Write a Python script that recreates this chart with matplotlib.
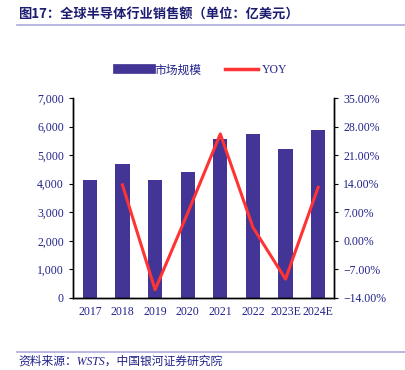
import matplotlib
matplotlib.use("Agg")
import matplotlib.pyplot as plt
from matplotlib.ticker import FuncFormatter
from matplotlib.lines import Line2D

plt.rcParams['font.family'] = ['Liberation Serif', 'Noto Sans CJK SC', 'DejaVu Sans']

# data
years = ["2017", "2018", "2019", "2020", "2021", "2022", "2023E", "2024E"]
market = [4122, 4688, 4123, 4404, 5559, 5741, 5201, 5884]
yoy_years = ["2018", "2019", "2020", "2021", "2022", "2023E", "2024E"]
yoy = [13.7, -12.0, 6.8, 26.2, 3.3, -9.4, 13.1]

bar_color = "#433595"
line_color = "#ff3333"
text_color = "#22228a"

fig = plt.figure(figsize=(4.05, 3.7), dpi=100)
ax = fig.add_axes([0.180, 0.195, 0.645, 0.540])
ax2 = ax.twinx()

x = list(range(len(years)))
ax.bar(x, market, width=0.44, color=bar_color, zorder=2)
xi = [years.index(y) for y in yoy_years]
ax2.plot(xi, yoy, color=line_color, lw=2.2, zorder=3)

ax.set_xlim(-0.52, len(years) - 0.51)
ax.set_ylim(0, 7000)
ax.set_yticks(range(0, 7001, 1000))
ax.yaxis.set_major_formatter(FuncFormatter(lambda v, p: f"{int(v):,}"))
ax2.set_ylim(-14, 35)
ax2.set_yticks([-14, -7, 0, 7, 14, 21, 28, 35])
ax2.yaxis.set_major_formatter(FuncFormatter(lambda v, p: f"{v:.2f}%".replace("-", "\u2212")))

ax.set_xticks(x)
ax.set_xticklabels(years)
for a in (ax, ax2):
    a.spines['top'].set_visible(False)
    for s in a.spines.values():
        s.set_linewidth(1.0)
    a.tick_params(labelsize=8.5, labelcolor=text_color, length=3, width=0.8, direction='out')
ax.tick_params(axis='x', length=0, pad=6)

# legend
handles = [Line2D([0], [0], color=bar_color, lw=7),
           Line2D([0], [0], color=line_color, lw=2.5)]
fig.legend(handles, ["市场规模", "YOY"], loc='center', bbox_to_anchor=(0.5, 0.81),
           ncol=2, frameon=False, labelcolor=text_color,
           handlelength=2.8, columnspacing=2.0, handletextpad=0.3,
           prop={'family': ['Liberation Serif', 'Noto Sans CJK SC'], 'size': 8.5})

# title and source
fig.text(0.045, 0.96, "图17：全球半导体行业销售额（单位：亿美元）", fontsize=9.5, fontweight='bold',
         color="#1c1c70", family=['Noto Sans CJK SC', 'DejaVu Sans'], va='center')
fig.add_artist(Line2D([0.042, 1.0], [0.933, 0.933], color="#aaaadd", lw=1.2))
fig.add_artist(Line2D([0.042, 1.0], [0.048, 0.048], color="#aaaadd", lw=1.2))
fig.text(0.045, 0.022, "资料来源：WSTS，中国银河证券研究院", fontsize=8.5, style='italic',
         color="#22228a", family=['Liberation Serif', 'Noto Sans CJK SC'], va='center')

fig.savefig("out.png", dpi=100)
